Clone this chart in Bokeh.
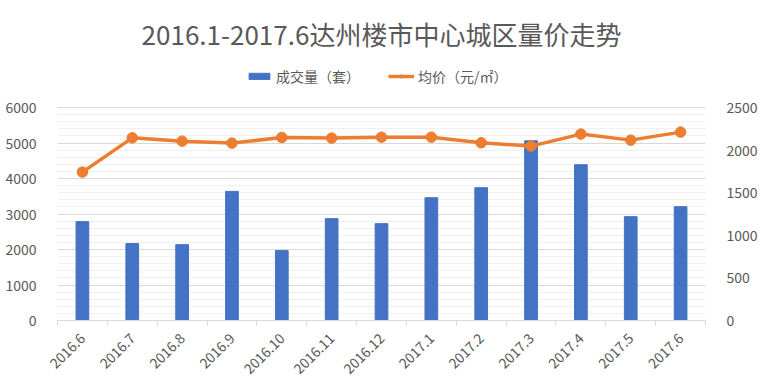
import math
from bokeh.plotting import figure
from bokeh.models import (Range1d, LinearAxis, FixedTicker, Legend, LegendItem,
                          ColumnDataSource)
from bokeh.embed import file_html
from bokeh.resources import INLINE

months = ["2016.6", "2016.7", "2016.8", "2016.9", "2016.10", "2016.11", "2016.12",
          "2017.1", "2017.2", "2017.3", "2017.4", "2017.5", "2017.6"]
volume = [2785, 2166, 2137, 3637, 1969, 2869, 2728, 3459, 3741, 5062, 4387, 2925, 3206]
price = [1742, 2144, 2105, 2082, 2148, 2141, 2152, 2152, 2086, 2047, 2188, 2117, 2211]
left_ticks = [0, 1000, 2000, 3000, 4000, 5000, 6000]
right_ticks = [0, 500, 1000, 1500, 2000, 2500]

FONT = "Noto Sans CJK SC"
GREY = "#595959"
BLUE = "#4472C4"
ORANGE = "#ED7D31"

W, H = 760, 385
LEFT, RIGHT, TOP, BOTTOM = 57, 50, 55, 65
FRAME_H = H - TOP - BOTTOM
AXIS_PX = 213          # pixel height of the 0..6000 span
scale = FRAME_H / AXIS_PX

idx = list(range(len(months)))
src = ColumnDataSource(dict(x=idx, v=volume, p=price))

p = figure(width=W, height=H, output_backend="svg", toolbar_location=None,
           x_range=Range1d(-0.5, len(months) - 0.5),
           y_range=Range1d(0, left_ticks[-1] * scale),
           min_border_left=LEFT, min_border_right=RIGHT, min_border_top=TOP,
           min_border_bottom=BOTTOM)
p.outline_line_color = None
p.background_fill_color = "white"

p.title.text = "2016.1-2017.6达州楼市中心城区量价走势"
p.title.align = "center"
p.title.text_font = FONT
p.title.text_font_size = "26px"
p.title.text_font_style = "normal"
p.title.text_color = GREY
p.title.standoff = 8

p.extra_y_ranges = {"price": Range1d(0, right_ticks[-1] * scale)}

bars = p.vbar(x="x", top="v", width=0.255, color=BLUE, source=src)
line = p.line(x="x", y="p", line_color=ORANGE, line_width=3.5, y_range_name="price", source=src)
dots = p.scatter(x="x", y="p", size=10.5, color=ORANGE, y_range_name="price", source=src)

# x axis
xa = p.xaxis[0]
xa.ticker = FixedTicker(ticks=idx, minor_ticks=[i - 0.5 for i in range(len(months) + 1)])
xa.major_label_overrides = {i: m for i, m in zip(idx, months)}
xa.major_label_orientation = math.pi / 4
xa.major_tick_out = 0
xa.major_tick_in = 0
xa.minor_tick_out = 5
xa.minor_tick_in = 0
xa.minor_tick_line_color = "#D9D9D9"
xa.axis_line_color = "#D9D9D9"
xa.major_label_text_font = FONT
xa.major_label_text_font_size = "14px"
xa.major_label_text_color = GREY
xa.major_label_standoff = 10

# left axis
ya = p.yaxis[0]
ya.ticker = FixedTicker(ticks=left_ticks, minor_ticks=list(range(0, left_ticks[-1] + 1, 200)))
ya.axis_line_color = None
ya.major_tick_line_color = None
ya.minor_tick_line_color = None
ya.major_label_text_font = FONT
ya.major_label_text_font_size = "14px"
ya.major_label_text_color = GREY
ya.major_label_standoff = 15

# right axis
ra = LinearAxis(y_range_name="price", ticker=FixedTicker(ticks=right_ticks))
ra.axis_line_color = None
ra.major_tick_line_color = None
ra.minor_tick_line_color = None
ra.major_label_text_font = FONT
ra.major_label_text_font_size = "14px"
ra.major_label_text_color = GREY
ra.major_label_standoff = 15
p.add_layout(ra, "right")

p.xgrid.grid_line_color = None
p.ygrid.grid_line_color = "#D9D9D9"
p.ygrid.minor_grid_line_color = "#F0F0F0"

legend = Legend(items=[LegendItem(label="成交量（套）", renderers=[bars]),
                       LegendItem(label="均价（元/㎡）", renderers=[line, dots])],
                orientation="horizontal", location=(189, 234),
                label_text_font=FONT, label_text_font_size="14px",
                label_text_color=GREY, glyph_width=26, glyph_height=8,
                spacing=28, padding=2, margin=0, label_standoff=4,
                border_line_color=None, background_fill_alpha=0)
p.add_layout(legend, "center")

open("out.html", "w").write(file_html(p, INLINE))
